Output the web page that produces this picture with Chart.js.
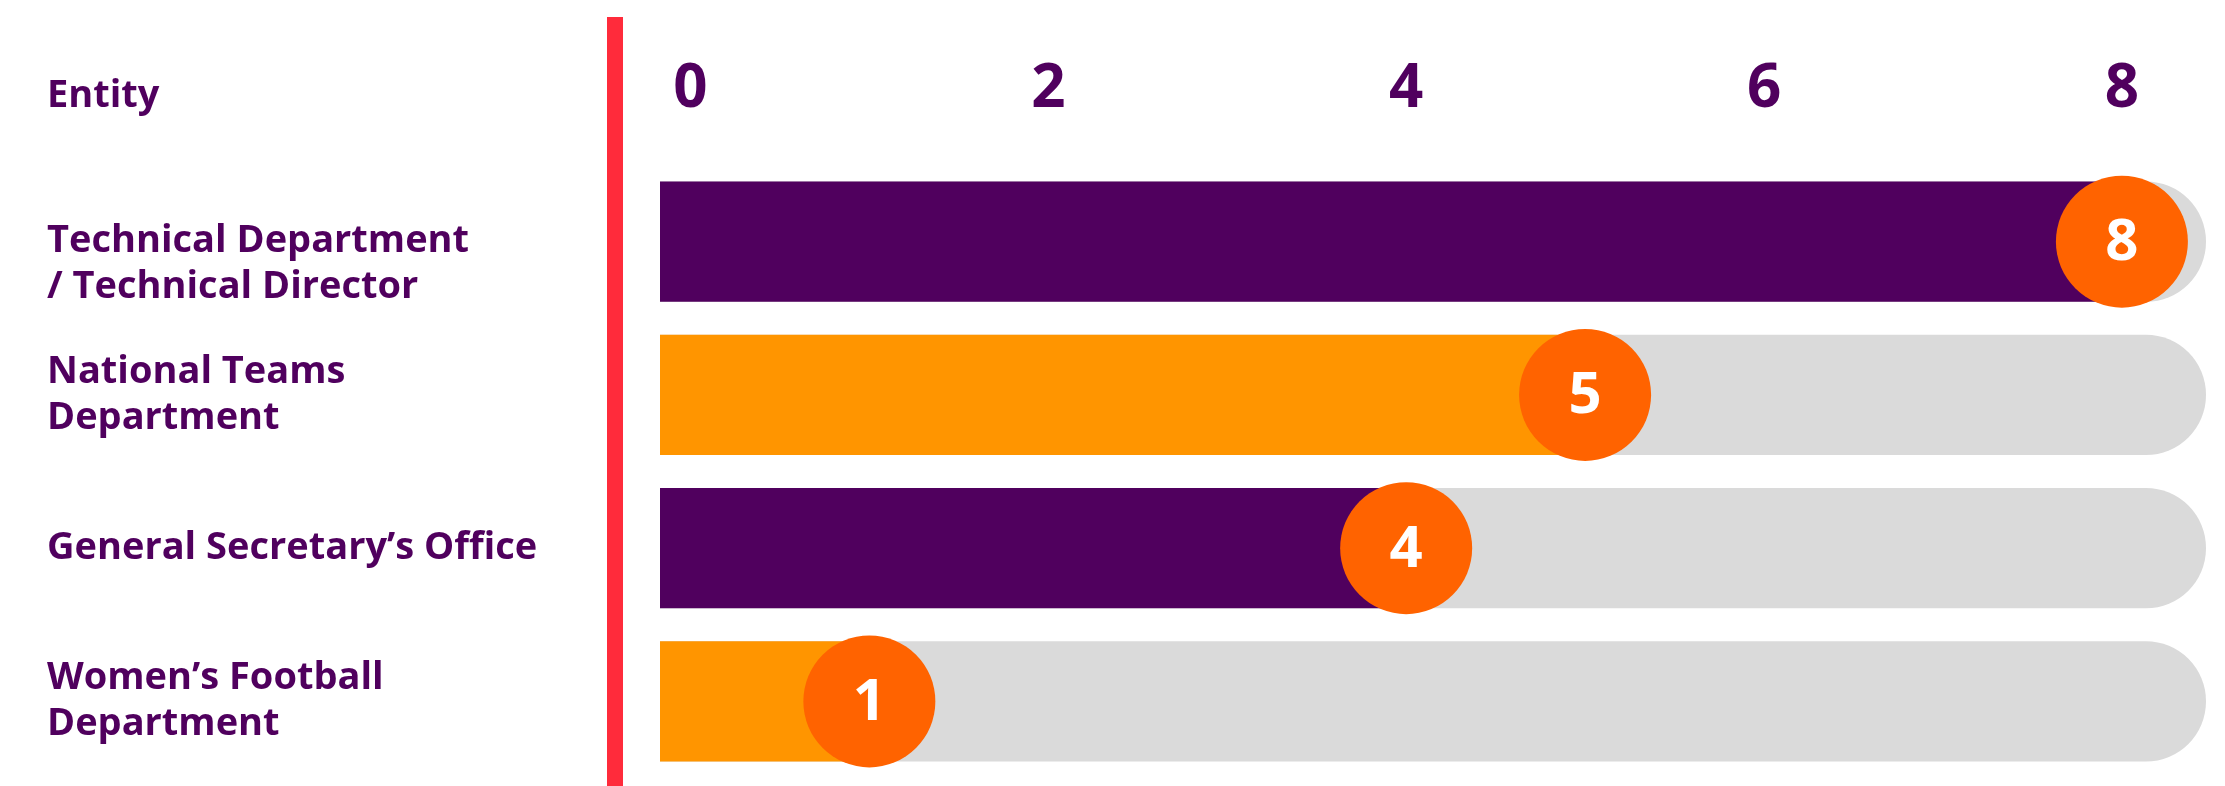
<!DOCTYPE html>
<html>
<head>
<meta charset="utf-8">
<title>Entity chart</title>
<script src="https://cdn.jsdelivr.net/npm/chart.js@4.4.1/dist/chart.umd.min.js"></script>
<style>
  html, body { margin: 0; padding: 0; background: #ffffff; }
  #wrap { width: 2225px; height: 786px; position: relative; }
</style>
</head>
<body>
<div id="wrap"><canvas id="entityChart"></canvas></div>
<script>
// ======== Data ========
const headerLabel = "Entity";
const categories = [
    ["", "Technical Department", "/ Technical Director"],
    ["National Teams", "Department"],
    "General Secretary’s Office",
    ["Women’s Football", "Department"]
];
const values = [8, 5, 4, 1];
const tickValues = [0, 2, 4, 6, 8];

// ======== Look ========
const purple = "#50005E";
const orange = "#FF9500";
const badgeOrange = "#FF6300";
const trackGrey = "#DADADA";
const redLine = "#FF2B3B";
const fontFamily = "'Open Sans', Lato, sans-serif";

const barColors = values.map((v, i) => (i % 2 === 0 ? purple : orange));
const xMin = -0.17;   // bars start a little left of zero
const xMax = 8.47;    // end of the grey track
const tickPad = 39;

// ======== Extra drawing: red divider, header, badge numbers ========
const decorPlugin = {
    id: "decor",
    beforeDraw(chart) {
        const { ctx, chartArea, scales } = chart;
        ctx.save();
        ctx.fillStyle = redLine;
        ctx.fillRect(chartArea.left - 53, 17, 16, chart.height - 17);

        ctx.fillStyle = purple;
        ctx.font = "bold 38px " + fontFamily;
        ctx.textAlign = "left";
        ctx.textBaseline = "middle";
        ctx.fillText(headerLabel, scales.y.left, chartArea.top - tickPad - 30);
        ctx.restore();
    },
    afterDatasetsDraw(chart) {
        const { ctx } = chart;
        const meta = chart.getDatasetMeta(2);
        ctx.save();
        ctx.fillStyle = "#ffffff";
        ctx.font = "bold 58px " + fontFamily;
        ctx.textAlign = "center";
        ctx.textBaseline = "middle";
        meta.data.forEach((pt, i) => {
            ctx.fillText(String(values[i]), pt.x, pt.y + 2);
        });
        ctx.restore();
    }
};

// ======== Chart ========
const ctx = document.getElementById("entityChart").getContext("2d");
const entityChart = new Chart(ctx, {
    type: "bar",
    data: {
        labels: categories,
        datasets: [
            {
                label: "Value",
                data: values.map(v => [xMin, v]),
                backgroundColor: barColors,
                borderWidth: 0,
                borderRadius: 0,
                grouped: false,
                order: 1,
                barPercentage: 0.785,
                categoryPercentage: 1
            },
            {
                label: "Track",
                data: values.map(() => [xMin, xMax]),
                backgroundColor: trackGrey,
                borderWidth: 0,
                borderSkipped: false,
                borderRadius: { topLeft: 0, bottomLeft: 0, topRight: 60, bottomRight: 60 },
                grouped: false,
                order: 2,
                barPercentage: 0.785,
                categoryPercentage: 1
            },
            {
                type: "line",
                label: "Badge",
                indexAxis: "y",
                data: values.map((v, i) => ({ x: v, y: i })),
                showLine: false,
                pointRadius: 66,
                pointHoverRadius: 66,
                pointBackgroundColor: badgeOrange,
                pointBorderWidth: 0,
                order: 0
            }
        ]
    },
    options: {
        indexAxis: "y",
        responsive: true,
        maintainAspectRatio: false,
        animation: false,
        events: [],
        layout: { autoPadding: false, padding: { left: 47, right: 19, top: 15, bottom: 8 } },
        plugins: {
            legend: { display: false },
            tooltip: { enabled: false }
        },
        scales: {
            x: {
                type: "linear",
                position: "top",
                min: xMin,
                max: xMax,
                afterBuildTicks: scale => { scale.ticks = tickValues.map(v => ({ value: v })); },
                grid: { display: false, drawTicks: false },
                border: { display: false },
                ticks: {
                    padding: tickPad,
                    color: purple,
                    font: { family: fontFamily, size: 60, weight: "bold", lineHeight: 1.2 }
                }
            },
            y: {
                type: "category",
                afterFit: scale => {
                    scale.width = 613;
                    scale.paddingTop = 0;
                    scale.paddingBottom = 0;
                },
                grid: { display: false, drawTicks: false },
                border: { display: false },
                ticks: {
                    crossAlign: "far",
                    color: purple,
                    font: { family: fontFamily, size: 38, weight: "bold", lineHeight: 1.21 }
                }
            }
        }
    },
    plugins: [decorPlugin]
});
</script>
</body>
</html>
